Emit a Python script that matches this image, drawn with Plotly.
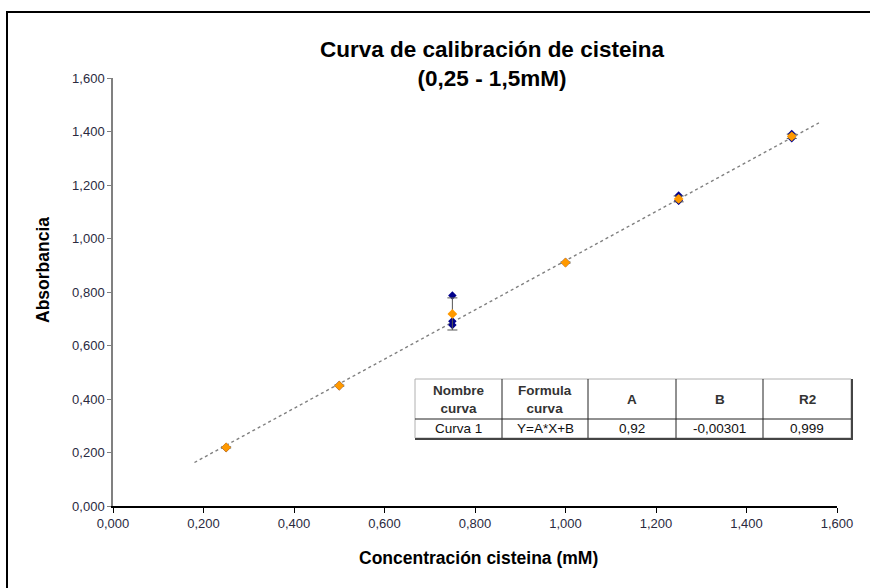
import plotly.graph_objects as go

# Calibration data: cysteine concentration (mM) vs absorbance
conc = [0.25, 0.50, 0.75, 1.00, 1.25, 1.50]
rep1 = [0.217, 0.448, 0.787, 0.908, 1.161, 1.391]
rep2 = [0.219, 0.450, 0.691, 0.910, 1.142, 1.375]
rep3 = [0.221, 0.452, 0.677, 0.912, 1.141, 1.380]
mean_abs = [0.219, 0.450, 0.718, 0.910, 1.148, 1.382]
sd_abs = [0.002, 0.002, 0.060, 0.002, 0.011, 0.008]

# Linear fit Y = A*X + B
fit_A = 0.92
fit_B = -0.00301
fit_R2 = 0.999
fit_x = [0.18, 1.56]

tick_vals = [0.0, 0.2, 0.4, 0.6, 0.8, 1.0, 1.2, 1.4, 1.6]

table_header = ["Nombre<br>curva", "Formula<br>curva", "A", "B", "R2"]


def es(v, nd=None):
    s = f"{v}" if nd is None else f"{v:.{nd}f}"
    return s.replace(".", ",")


table_row = ["Curva 1", "Y=A*X+B", es(fit_A), es(fit_B), es(fit_R2)]

FONT = "Liberation Sans, Arial, sans-serif"
W, H = 870, 588
L, R, T, B = 113, 33, 78, 82
PW, PH = W - L - R, H - T - B


def px(p):
    return (p - L) / PW


def py(p):
    return (H - B - p) / PH


fig = go.Figure()

# trend line
fig.add_trace(go.Scatter(
    x=fit_x, y=[fit_A * v + fit_B for v in fit_x], mode="lines",
    line=dict(color="#7f7f7f", width=1.4, dash="3px,3px"),
    hoverinfo="skip", showlegend=False))

# replicates
rx, ry = [], []
for reps in (rep1, rep2, rep3):
    rx += conc
    ry += reps
fig.add_trace(go.Scatter(
    x=rx, y=ry, mode="markers",
    marker=dict(symbol="diamond", size=6.5, color="#00008b"),
    showlegend=False))

# mean with standard deviation
fig.add_trace(go.Scatter(
    x=conc, y=mean_abs, mode="markers",
    marker=dict(symbol="diamond", size=7.5, color="#ff9900"),
    error_y=dict(type="data", array=sd_abs, visible=True,
                 color="#555555", thickness=1, width=5),
    showlegend=False))

shapes = []
# outer frame
shapes.append(dict(type="rect", xref="paper", yref="paper",
                   x0=px(7), x1=px(1000), y0=py(700), y1=py(12),
                   line=dict(color="#000000", width=2), layer="below"))

# fit table
cols = [415, 502, 588, 676, 763, 851]
t_top, t_mid, t_bot = 379, 419, 438
shapes.append(dict(type="rect", xref="paper", yref="paper",
                   x0=px(cols[0]), x1=px(cols[-1]), y0=py(t_bot), y1=py(t_top),
                   fillcolor="white", line=dict(color="#b0b0b0", width=1)))
for c in cols[1:-1]:
    shapes.append(dict(type="line", xref="paper", yref="paper",
                       x0=px(c), x1=px(c), y0=py(t_bot), y1=py(t_top),
                       line=dict(color="#222222", width=1)))
shapes.append(dict(type="line", xref="paper", yref="paper",
                   x0=px(cols[0]), x1=px(cols[-1]), y0=py(t_mid), y1=py(t_mid),
                   line=dict(color="#222222", width=1)))
shapes.append(dict(type="line", xref="paper", yref="paper",
                   x0=px(cols[-1] + 1), x1=px(cols[-1] + 1), y0=py(t_bot + 1), y1=py(t_top),
                   line=dict(color="#444444", width=2)))
shapes.append(dict(type="line", xref="paper", yref="paper",
                   x0=px(cols[0]), x1=px(cols[-1] + 2), y0=py(t_bot + 1), y1=py(t_bot + 1),
                   line=dict(color="#444444", width=2)))

annotations = []
for i in range(5):
    cx = px((cols[i] + cols[i + 1]) / 2)
    annotations.append(dict(
        x=cx, y=py((t_top + t_mid) / 2 + 0.5), xref="paper", yref="paper",
        text=f"<b>{table_header[i]}</b>", showarrow=False,
        font=dict(family=FONT, size=13.5, color="#333333"),
        xanchor="center", yanchor="middle"))
    annotations.append(dict(
        x=cx, y=py((t_mid + t_bot) / 2), xref="paper", yref="paper",
        text=table_row[i], showarrow=False,
        font=dict(family=FONT, size=13.5, color="#111111"),
        xanchor="center", yanchor="middle"))

# axis titles
annotations.append(dict(
    x=px(478), y=py(558), xref="paper", yref="paper",
    text="<b>Concentración cisteina (mM)</b>", showarrow=False,
    font=dict(family=FONT, size=17.5, color="#000000"),
    xanchor="center", yanchor="middle"))
annotations.append(dict(
    x=px(43), y=py(270), xref="paper", yref="paper",
    text="<b>Absorbancia</b>", showarrow=False, textangle=-90,
    font=dict(family=FONT, size=17.5, color="#000000"),
    xanchor="center", yanchor="middle"))

fig.update_layout(
    width=W, height=H,
    margin=dict(l=L, r=R, t=T, b=B),
    paper_bgcolor="white", plot_bgcolor="white",
    separators=",.",
    title=dict(
        text="<b>Curva de calibración de cisteina<br>(0,25 - 1,5mM)</b>",
        x=492 / W, xref="container", xanchor="center",
        y=1 - 57 / H, yref="container", yanchor="top",
        font=dict(family=FONT, size=22.5, color="#000000")),
    xaxis=dict(range=[0, 1.6], tickvals=tick_vals, tickformat=".3f",
               showgrid=False, zeroline=False,
               showline=True, linecolor="#000000", linewidth=1.5,
               ticks="outside", ticklen=5, tickcolor="#000000", tickwidth=1,
               tickfont=dict(family=FONT, size=13, color="#2a2a40")),
    yaxis=dict(range=[0, 1.6], tickvals=tick_vals, tickformat=".3f",
               showgrid=False, zeroline=False,
               showline=True, linecolor="#808080", linewidth=1.5,
               ticks="outside", ticklen=4, tickcolor="#808080", tickwidth=1,
               tickfont=dict(family=FONT, size=13, color="#2a2a40")),
    shapes=shapes,
    annotations=annotations,
)

fig.write_html("out.html")
